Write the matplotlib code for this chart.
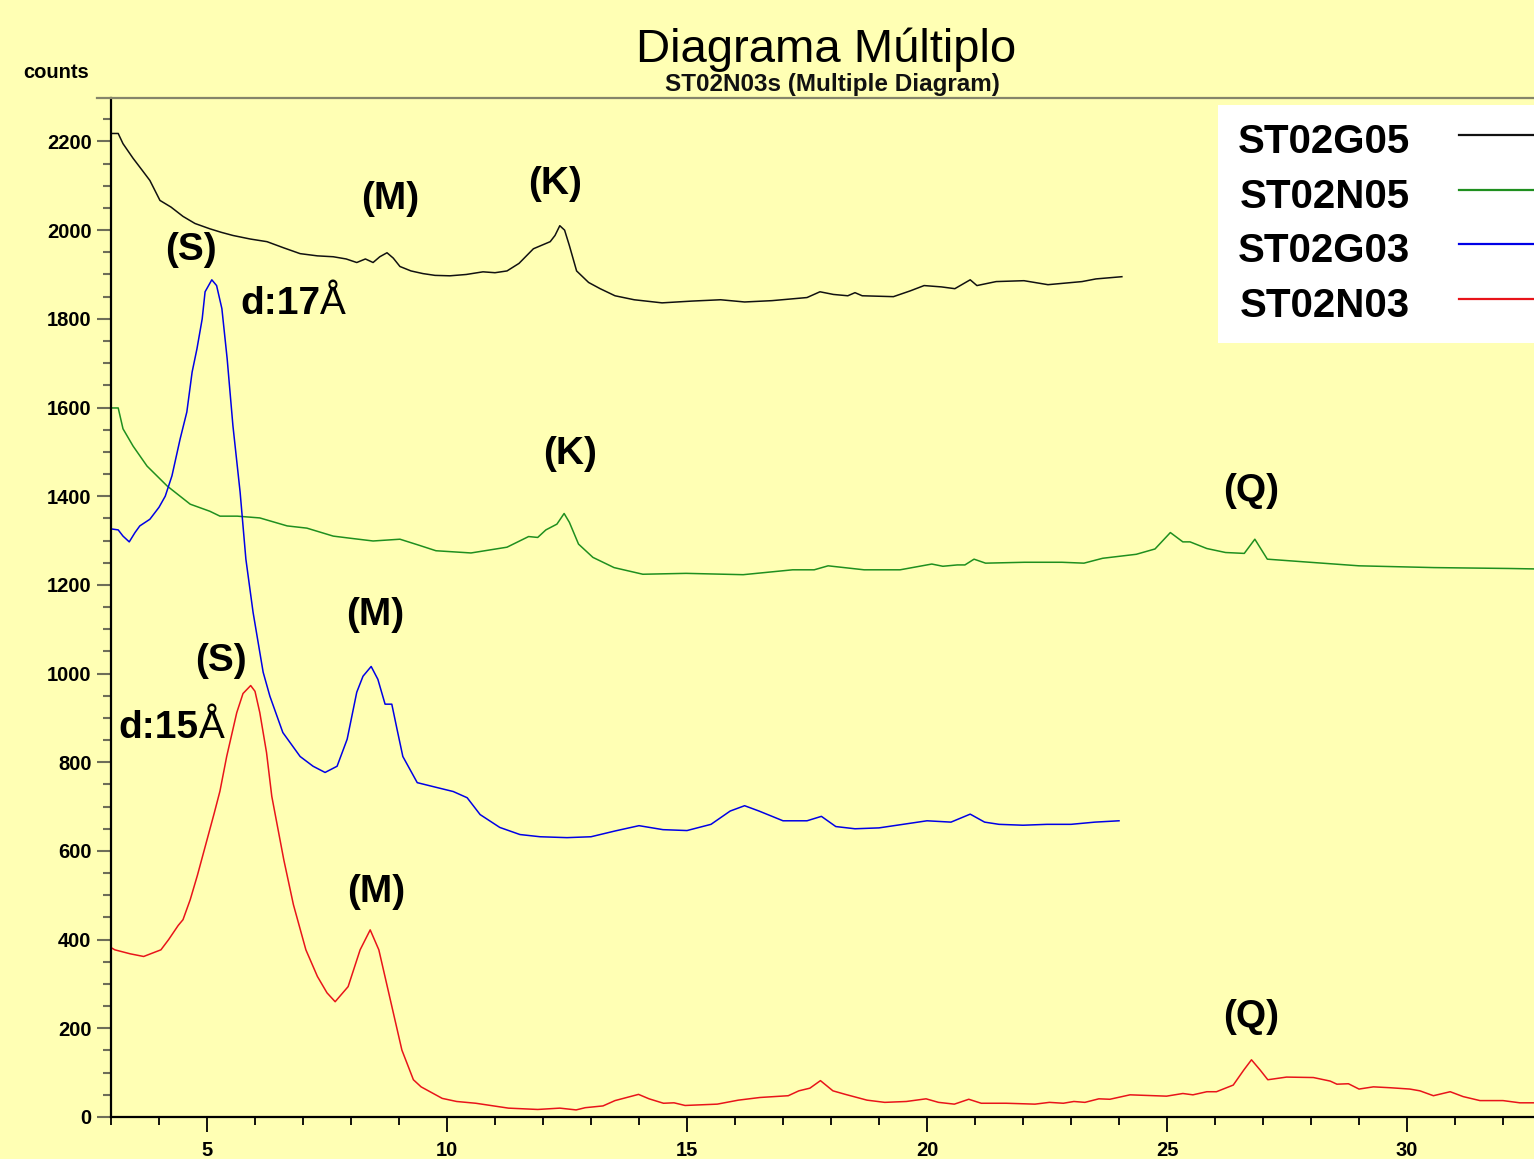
import matplotlib
matplotlib.use('Agg')
import matplotlib.pyplot as plt
from matplotlib.lines import Line2D
from matplotlib.patches import Rectangle
from matplotlib.ticker import MultipleLocator

plt.rcParams['font.family'] = ['Liberation Sans', 'DejaVu Sans']
plt.rcParams['font.weight'] = 'bold'

# ---------------- data (2theta in degrees, counts) ----------------
series_names = ['ST02G05', 'ST02N05', 'ST02G03', 'ST02N03']

g05_x = [3.0, 3.15, 3.25, 3.46, 3.65, 3.81, 4.02, 4.25, 4.5, 4.75, 5.06, 5.3, 5.54, 5.9,
         6.25, 6.6, 6.94, 7.3, 7.63, 7.9, 8.12, 8.3, 8.46, 8.6, 8.75, 8.88, 9.02, 9.25,
         9.5, 9.75, 10.06, 10.4, 10.75, 11.0, 11.25, 11.5, 11.8, 12.15, 12.25, 12.35,
         12.45, 12.55, 12.7, 12.95, 13.19, 13.5, 13.9, 14.48, 15.1, 15.7, 16.2, 16.77,
         17.5, 17.77, 18.05, 18.35, 18.5, 18.65, 19.3, 19.65, 19.94, 20.3, 20.58, 20.9,
         21.04, 21.44, 22.02, 22.52, 23.23, 23.52, 24.06]
g05_y = [2218, 2218, 2195, 2162, 2135, 2112, 2067, 2052, 2031, 2015, 2003, 1995, 1988, 1980,
         1974, 1960, 1947, 1942, 1940, 1935, 1927, 1935, 1927, 1940, 1949, 1937, 1918, 1908,
         1902, 1898, 1897, 1900, 1906, 1904, 1908, 1925, 1958, 1974, 1988, 2010,
         2000, 1965, 1908, 1882, 1868, 1852, 1843, 1836, 1840, 1843, 1838, 1841,
         1848, 1861, 1855, 1852, 1859, 1852, 1850, 1863, 1875, 1872, 1868, 1888,
         1875, 1884, 1886, 1877, 1884, 1890, 1895]

n05_x = [3.02, 3.15, 3.25, 3.46, 3.75, 4.17, 4.65, 5.06, 5.27, 5.63, 6.1, 6.67, 7.08, 7.63,
         8.0, 8.46, 9.02, 9.4, 9.77, 10.5, 11.25, 11.7, 11.89, 12.06, 12.29, 12.44, 12.55,
         12.74, 13.04, 13.48, 14.08, 14.98, 16.17, 17.2, 17.65, 17.94, 18.69, 19.44, 20.1,
         20.33, 20.63, 20.79, 20.98, 21.22, 22.03, 22.81, 23.27, 23.66, 24.36, 24.75, 25.07,
         25.33, 25.48, 25.83, 26.22, 26.61, 26.83, 27.09, 27.85, 29.0, 30.56, 32.12, 32.65]
n05_y = [1599, 1599, 1552, 1513, 1468, 1423, 1382, 1366, 1355, 1355, 1351, 1333, 1328, 1310,
         1305, 1299, 1303, 1290, 1277, 1272, 1285, 1309, 1307, 1324, 1337, 1361, 1341,
         1292, 1262, 1239, 1224, 1226, 1223, 1234, 1234, 1243, 1234, 1234, 1247,
         1242, 1245, 1245, 1258, 1249, 1251, 1251, 1249, 1260, 1269, 1281, 1318,
         1297, 1297, 1282, 1273, 1271, 1303, 1258, 1252, 1243, 1239, 1237, 1236]

g03_x = [3.02, 3.15, 3.25, 3.38, 3.5, 3.6, 3.81, 4.0, 4.13, 4.27, 4.44, 4.58, 4.69, 4.79,
         4.9, 4.96, 5.1, 5.2, 5.31, 5.42, 5.54, 5.69, 5.81, 5.96, 6.17, 6.31, 6.58, 6.94,
         7.21, 7.46, 7.71, 7.92, 8.12, 8.25, 8.42, 8.56, 8.71, 8.85, 8.96, 9.08, 9.38, 9.79,
         10.13, 10.42, 10.69, 11.1, 11.52, 11.94, 12.5, 13.0, 13.5, 14.0, 14.5, 15.0, 15.5,
         15.9, 16.2, 16.5, 17.0, 17.5, 17.8, 18.1, 18.5, 19.0, 19.5, 20.0, 20.5, 20.9, 21.2,
         21.5, 22.0, 22.5, 23.0, 23.5, 24.0]
g03_y = [1326, 1324, 1310, 1297, 1318, 1333, 1348, 1375, 1400, 1446, 1529, 1590, 1680, 1732,
         1800, 1861, 1888, 1875, 1823, 1710, 1559, 1409, 1258, 1138, 1003, 949, 867, 813,
         791, 777, 791, 852, 958, 994, 1016, 987, 931, 931, 874, 813, 754, 743,
         734, 720, 682, 653, 637, 632, 630, 632, 645, 657, 648, 646, 660,
         690, 702, 690, 668, 668, 678, 655, 650, 652, 660, 668, 665, 683, 665,
         660, 658, 660, 660, 665, 668]

n03_x = [3.0, 3.08, 3.4, 3.68, 4.04, 4.2, 4.4, 4.5, 4.65, 4.8, 5.0, 5.15, 5.27, 5.41, 5.62,
         5.75, 5.91, 6.0, 6.1, 6.24, 6.35, 6.6, 6.8, 7.06, 7.3, 7.5, 7.67, 7.94, 8.19, 8.4,
         8.58, 8.82, 9.06, 9.3, 9.46, 9.9, 10.2, 10.6, 10.97, 11.28, 11.89, 12.35, 12.69,
         12.88, 13.25, 13.5, 13.99, 14.21, 14.51, 14.73, 14.96, 15.63, 16.07, 16.52, 17.11,
         17.33, 17.56, 17.78, 18.04, 18.3, 18.75, 19.12, 19.57, 19.98, 20.24, 20.57, 20.87,
         21.13, 21.65, 22.25, 22.55, 22.84, 23.06, 23.29, 23.58, 23.81, 24.23, 24.99, 25.33,
         25.54, 25.83, 26.03, 26.38, 26.6, 26.76, 26.94, 27.1, 27.49, 28.05, 28.4, 28.54,
         28.78, 29.0, 29.3, 29.65, 30.06, 30.27, 30.55, 30.9, 31.17, 31.52, 32.0, 32.35, 32.65]
n03_y = [382, 377, 368, 362, 377, 400, 432, 445, 490, 545, 625, 685, 735, 813, 912,
         955, 973, 960, 912, 822, 723, 580, 479, 377, 317, 280, 260, 294, 377, 422,
         377, 264, 151, 84, 68, 42, 35, 31, 25, 20, 17, 20, 16,
         21, 25, 37, 51, 41, 31, 32, 26, 29, 38, 44, 48,
         59, 65, 82, 59, 51, 38, 33, 35, 41, 33, 29, 40,
         31, 31, 29, 33, 31, 35, 33, 41, 40, 50, 47, 53,
         50, 57, 57, 72, 106, 129, 106, 84, 90, 89, 81, 74,
         75, 63, 68, 66, 63, 59, 48, 57, 46, 37, 37, 32, 32]

# peak labels: text, 2theta, counts
peak_labels = [('(S)', 4.66, 1955), ('(M)', 8.81, 2071), ('(K)', 12.25, 2105),
               ('(K)', 12.56, 1495), ('(Q)', 26.75, 1412), ('(M)', 8.51, 1132),
               ('(S)', 5.29, 1028), ('(M)', 8.52, 508), ('(Q)', 26.76, 226)]
d_labels = [('d:17', 5.69, 1811), ('d:15', 3.16, 854)]

# ---------------- figure ----------------
W, H = 1534, 1159
bg = '#ffffb4'
fig = plt.figure(figsize=(W / 100, H / 100), dpi=100, facecolor=bg)
ax = fig.add_axes([111 / W, 1 - 1117 / H, (W - 111) / W, (1117 - 98) / H])
ax.set_facecolor(bg)

colors = ['#111111', '#1f8f1f', '#0000e6', '#e8141a']
xs = [g05_x, n05_x, g03_x, n03_x]
ys = [g05_y, n05_y, g03_y, n03_y]
handles = []
for x, y, c, n in zip(xs, ys, colors, series_names):
    h, = ax.plot(x, y, color=c, lw=1.1, label=n)
    handles.append(h)

ax.set_xlim(3, 3 + (W - 111) / 48)
ax.set_ylim(0, 2298)

for s in ['top', 'right']:
    ax.spines[s].set_visible(False)
ax.spines['left'].set_linewidth(1.6)
ax.spines['bottom'].set_linewidth(1.6)

ax.xaxis.set_major_locator(MultipleLocator(5))
ax.xaxis.set_minor_locator(MultipleLocator(1))
ax.yaxis.set_major_locator(MultipleLocator(200))
ax.yaxis.set_minor_locator(MultipleLocator(50))
ax.tick_params(axis='x', which='major', direction='out', length=10.8, width=1.3,
               color='black', pad=6.5, labelsize=14.5)
ax.tick_params(axis='x', which='minor', direction='out', length=5.8, width=1.3, color='black')
ax.tick_params(axis='y', which='major', direction='out', length=10, width=1.5,
               color='#6e6e58', pad=4, labelsize=14.5)
ax.tick_params(axis='y', which='minor', direction='out', length=5.8, width=1.5, color='#6e6e58')

# top border line
fig.add_artist(Line2D([97 / W, 1.0], [1 - 98 / H, 1 - 98 / H], transform=fig.transFigure,
                      color='#85856a', lw=1.6))

# titles
fig.text(826 / W, 1 - 62 / H, 'Diagrama Múltiplo', ha='center', va='baseline',
         fontsize=34, fontweight='normal')
fig.text(832 / W, 1 - 91 / H, 'ST02N03s (Multiple Diagram)', ha='center', va='baseline',
         fontsize=17.5, fontweight='bold', color='#111111')
fig.text(56 / W, 1 - 78 / H, 'counts', ha='center', va='baseline', fontsize=14.5,
         fontweight='bold')

# peak labels
for t, x, y in peak_labels:
    ax.text(x, y, t, ha='center', va='center', fontsize=28, fontweight='bold')
for t, x, y in d_labels:
    tt = ax.text(x, y, t, ha='left', va='baseline', fontsize=28, fontweight='bold')
    ax.annotate('Å', xy=(1, 0), xycoords=tt, ha='left', va='bottom', fontsize=28,
                fontweight='normal')

# legend box (drawn manually to match layout)
fig.add_artist(Rectangle((1218 / W, 1 - 343 / H), 0.3, (343 - 105) / H,
                         transform=fig.transFigure, facecolor='white', edgecolor='none'))
text_base = [153, 208, 262, 317]
line_y = [134.5, 189.5, 244, 299]
for h, tb, ly in zip(handles, text_base, line_y):
    fig.text(1410 / W, 1 - tb / H, h.get_label(), ha='right', va='baseline', fontsize=29,
             fontweight='bold')
    fig.add_artist(Line2D([1459 / W, 1.0], [1 - ly / H, 1 - ly / H], transform=fig.transFigure,
                          color=h.get_color(), lw=1.6))

fig.savefig('out.png', dpi=100, facecolor=bg)
